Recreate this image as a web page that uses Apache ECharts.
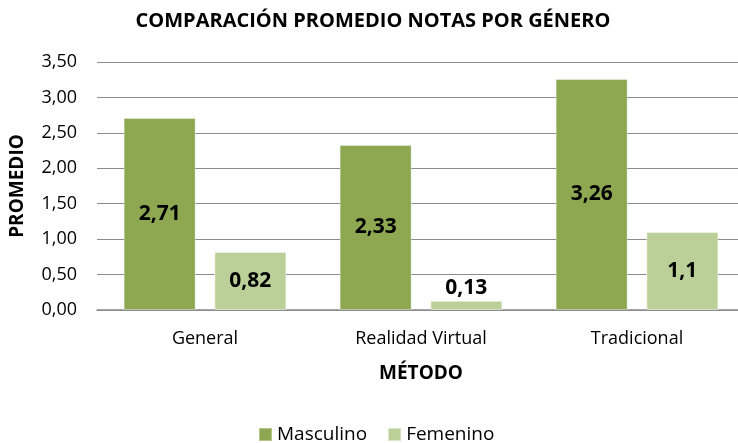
<!DOCTYPE html>
<html>
<head>
<meta charset="utf-8">
<script src="https://cdn.jsdelivr.net/npm/echarts@6/dist/echarts.min.js"></script>
<style>
  html, body { margin: 0; padding: 0; background: #fff; overflow: hidden; }
  #chart { width: 738px; height: 443px; }
</style>
</head>
<body>
<div id="chart"></div>
<script>
const categories = ['General', 'Realidad Virtual', 'Tradicional'];
const masculino = [2.71, 2.33, 3.26];
const femenino = [0.82, 0.13, 1.1];
const yTicks = [0, 0.5, 1, 1.5, 2, 2.5, 3, 3.5];

const FONT = '"Open Sans", "Liberation Sans", sans-serif';
const comma = v => String(v).replace('.', ',');

// Small bars get their value label above the bar instead of inside it
const toItems = arr => arr.map(v => v < 0.3
  ? { value: v, label: { position: 'top', distance: 2 } }
  : { value: v });

const valueLabel = {
  show: true, position: 'inside',
  fontFamily: FONT, fontSize: 21, fontWeight: 'bold', color: '#000',
  formatter: p => comma(p.value)
};

const chart = echarts.init(document.getElementById('chart'));
chart.setOption({
  animation: false,
  textStyle: { fontFamily: FONT },
  title: {
    text: 'COMPARACIÓN PROMEDIO NOTAS POR GÉNERO',
    left: 368, top: 6, textAlign: 'center',
    textStyle: { fontFamily: FONT, fontSize: 20, fontWeight: 'bold', color: '#000' }
  },
  legend: {
    top: 420, left: 253,
    itemWidth: 13, itemHeight: 13, itemGap: 20,
    icon: 'rect',
    textStyle: { fontFamily: FONT, fontSize: 19, color: '#000' },
    data: ['Masculino', 'Femenino']
  },
  grid: { left: 97, width: 648, top: 62, bottom: 133, outerBoundsMode: 'none' },
  xAxis: {
    type: 'category',
    data: categories,
    name: 'MÉTODO',
    nameLocation: 'middle',
    nameGap: 54,
    nameTextStyle: { fontFamily: FONT, fontSize: 19, fontWeight: 'bold', color: '#000' },
    axisLine: { lineStyle: { color: '#8c8c8c', width: 1.5 } },
    axisTick: { show: false },
    axisLabel: { fontFamily: FONT, fontSize: 18, color: '#000', margin: 20 }
  },
  yAxis: {
    type: 'value',
    min: 0, max: 3.5, interval: 0.5,
    name: 'PROMEDIO',
    nameLocation: 'middle',
    nameGap: 70,
    nameTextStyle: { fontFamily: FONT, fontSize: 19, fontWeight: 'bold', color: '#000' },
    axisLine: { show: false },
    axisTick: { show: false },
    splitLine: { lineStyle: { color: '#8c8c8c' } },
    axisLabel: {
      fontFamily: FONT, fontSize: 18, color: '#000', margin: 20,
      formatter: v => yTicks.includes(v) ? v.toFixed(2).replace('.', ',') : ''
    }
  },
  series: [
    {
      name: 'Masculino', type: 'bar',
      data: toItems(masculino),
      barWidth: 72, barGap: '26%',
      itemStyle: { color: '#8ea851', borderColor: 'rgba(255,255,255,0.35)', borderWidth: 1 },
      label: valueLabel
    },
    {
      name: 'Femenino', type: 'bar',
      data: toItems(femenino),
      barWidth: 72,
      itemStyle: { color: '#bbd098', borderColor: 'rgba(255,255,255,0.45)', borderWidth: 1 },
      label: valueLabel
    }
  ]
});
</script>
</body>
</html>
